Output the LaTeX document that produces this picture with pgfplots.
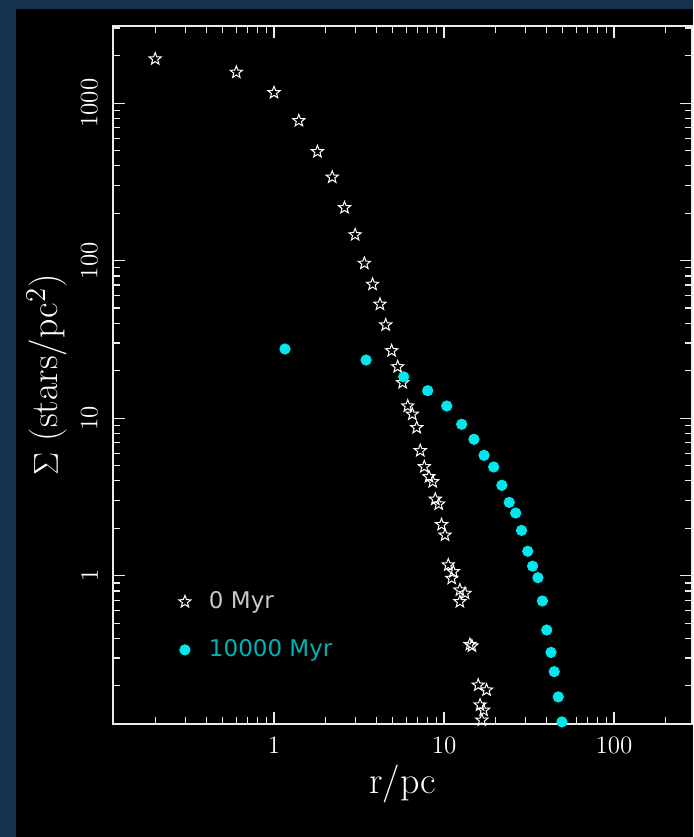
\documentclass[border=0pt]{standalone}
\usepackage{pgfplots}
\pgfplotsset{compat=1.18}
\usepackage{fontspec}
\newfontfamily\legfont{DejaVu Sans}
\definecolor{navybg}{RGB}{22,49,80}
\definecolor{cyanpt}{RGB}{0,232,238}
\definecolor{cyantxt}{RGB}{0,178,182}
\definecolor{graytxt}{RGB}{200,200,200}
\definecolor{axcol}{RGB}{235,235,235}

\pgfdeclareplotmark{ostar}{%
  \pgfpathmoveto{\pgfpointpolar{90}{\pgfplotmarksize}}%
  \pgfpathlineto{\pgfpointpolar{126}{0.42*\pgfplotmarksize}}%
  \pgfpathlineto{\pgfpointpolar{162}{\pgfplotmarksize}}%
  \pgfpathlineto{\pgfpointpolar{198}{0.42*\pgfplotmarksize}}%
  \pgfpathlineto{\pgfpointpolar{234}{\pgfplotmarksize}}%
  \pgfpathlineto{\pgfpointpolar{270}{0.42*\pgfplotmarksize}}%
  \pgfpathlineto{\pgfpointpolar{306}{\pgfplotmarksize}}%
  \pgfpathlineto{\pgfpointpolar{342}{0.42*\pgfplotmarksize}}%
  \pgfpathlineto{\pgfpointpolar{18}{\pgfplotmarksize}}%
  \pgfpathlineto{\pgfpointpolar{54}{0.42*\pgfplotmarksize}}%
  \pgfpathclose
  \pgfusepathqstroke
}

\pgfplotstableread{
x y
0.2 1909
0.6 1570
1.0 1166
1.4 774
1.8 492
2.2 339
2.6 217
3.0 146
3.4 96.2
3.8 70.8
4.2 52.9
4.54 39.1
4.92 26.8
5.34 21.2
5.71 16.8
6.12 11.95
6.51 10.6
6.91 8.71
7.25 6.22
7.66 4.92
8.16 4.25
8.58 3.95
8.89 3.06
9.31 2.85
9.67 2.11
10.14 1.81
10.6 1.17
11.1 0.962
11.35 1.06
12.4 0.811
13.3 0.773
12.4 0.684
14.2 0.366
14.6 0.358
15.9 0.202
17.8 0.188
16.3 0.151
17.1 0.140
16.7 0.121
}\stars

\pgfplotstableread{
x y
1.16 27.5
3.48 23.4
5.79 18.3
8.02 14.95
10.38 11.95
12.71 9.15
15.0 7.35
17.2 5.81
19.6 4.90
21.9 3.75
24.2 2.92
26.4 2.50
28.6 1.94
31.1 1.43
33.2 1.15
35.7 0.971
37.9 0.691
40.2 0.452
42.6 0.326
44.5 0.246
47.0 0.170
49.4 0.118
}\late

\begin{document}
\begin{tikzpicture}
\fill[navybg] (-56.5pt,-56.5pt) rectangle (290pt,362pt);
\fill[black] (-48.5pt,-56.5pt) rectangle (290pt,357.5pt);
\begin{axis}[
  at={(0pt,0pt)}, anchor=south west,
  scale only axis, width=289.5pt, height=349pt,
  xmode=log, ymode=log,
  xmin=0.1129, xmax=287.7, ymin=0.1144, ymax=3090,
  clip=false,
  axis line style={axcol, line width=0.6pt},
  every tick/.style={axcol, line width=0.6pt},
  major tick length=6pt, minor tick length=3.5pt,
  xtick={1,10,100}, xticklabels={1,10,100},
  ytick={1,10,100,1000}, yticklabels={1,10,100,1000},
  minor xtick={0.2,0.3,0.4,0.5,0.6,0.7,0.8,0.9,2,3,4,5,6,7,8,9,20,30,40,50,60,70,80,90,200},
  minor ytick={0.2,0.3,0.4,0.5,0.6,0.7,0.8,0.9,2,3,4,5,6,7,8,9,20,30,40,50,60,70,80,90,200,300,400,500,600,700,800,900,2000,3000},
  tick label style={text=white, font=\fontsize{12.5}{14}\selectfont},
  yticklabel style={rotate=90, anchor=south},
  xticklabel shift=3pt, yticklabel shift=4pt,
  xlabel={r/pc}, ylabel={$\Sigma$ (stars/pc$^2$)},
  label style={text=white, font=\fontsize{19}{22}\selectfont},
  xlabel style={at={(axis description cs:0.5,-0.086)}, anchor=center},
  ylabel style={at={(axis description cs:-0.114,0.5)}, anchor=center},
  legend style={draw=none, fill=none, at={(axis description cs:0.113,0.19)}, anchor=north west,
    inner sep=0pt, row sep=14pt, column sep=9pt, font=\legfont\fontsize{11.5}{13}\selectfont,
    nodes={inner sep=0pt}},
  legend cell align=left,
  legend image code/.code={\draw[#1] plot coordinates {(0pt,0pt)};},
]
\addplot[only marks, mark=ostar, mark size=3.2pt, mark options={draw=white, line width=0.5pt}] table[x=x,y=y] {\stars};
\addlegendentry{\textcolor{graytxt}{0 Myr}}
\addplot[only marks, mark=*, mark size=2.6pt, color=cyanpt, mark options={draw=cyanpt, fill=cyanpt}] table[x=x,y=y] {\late};
\addlegendentry{\textcolor{cyantxt}{10000 Myr}}
\end{axis}
\pgfresetboundingbox
\useasboundingbox (-56.5pt,-56.5pt) rectangle (290pt,362pt);
\end{tikzpicture}
\end{document}
